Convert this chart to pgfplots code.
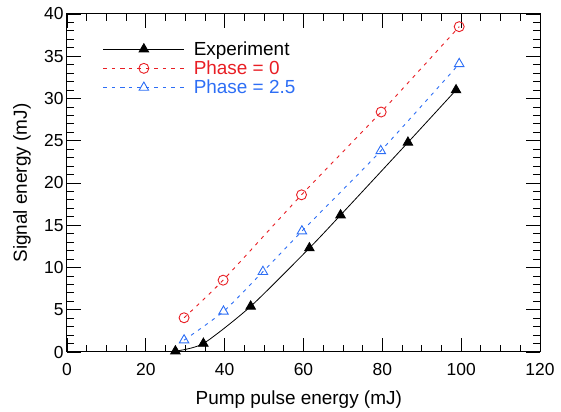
\documentclass[border=0pt]{standalone}
\usepackage{pgfplots}
\pgfplotsset{compat=1.18}
\usepackage{fontspec}
\setmainfont{Liberation Sans}
\definecolor{pred}{RGB}{232,30,36}
\definecolor{pblue}{RGB}{45,110,245}
\begin{document}
\begin{tikzpicture}[x=1bp,y=1bp]
\begin{axis}[
  scale only axis,
  width=473bp, height=338bp,
  xmin=0, xmax=120, ymin=0, ymax=40,
  xtick={0,20,...,120}, ytick={0,5,...,40},
  minor x tick num=3, minor y tick num=4,
  tick align=inside,
  major tick length=14bp, minor tick length=7bp,
  every tick/.style={black, line width=0.8bp},
  axis line style={line width=1bp},
  /pgf/number format/assume math mode=true,
  tick label style={font=\fontsize{17.5}{20}\selectfont},
  xticklabel style={yshift=-8bp},
  xlabel={Pump pulse energy (mJ)},
  ylabel={Signal energy (mJ)},
  xlabel style={at={(axis description cs:0.49,-0.154)}, anchor=base, font=\fontsize{19}{22}\selectfont},
  ylabel style={at={(axis description cs:-0.095,0.5)}, anchor=center, rotate=0, font=\fontsize{19}{22}\selectfont},
  legend style={draw=none, fill=none, at={(axis description cs:0.0755,0.925)}, anchor=north west,
     font=\fontsize{19}{22}\selectfont, row sep=0bp, column sep=7bp, inner sep=0pt},
  legend cell align=left,
  legend image code/.code={\draw[mark repeat=2,mark phase=2,#1] plot coordinates {(0bp,0bp) (40.5bp,0bp) (81bp,0bp)};},
]
\addplot[black, line width=0.8bp, smooth, tension=0.4, mark=triangle*, mark size=5.5bp, mark options={solid}]
 coordinates {(27.5,0.1) (34.6,1.0) (46.6,5.4) (61.5,12.3) (69.4,16.2) (86.5,24.8) (98.7,31.0)};
\addlegendentry{Experiment}
\addplot[pred, line width=0.9bp, dash pattern=on 3.5bp off 5bp, smooth, tension=0.4, mark=o, mark size=5bp, mark options={solid, line width=0.9bp}]
 coordinates {(29.7,4.05) (39.6,8.5) (59.5,18.6) (79.7,28.4) (99.5,38.5)};
\addlegendentry{\textcolor{pred}{Phase = 0}}
\addplot[pblue, line width=0.9bp, dash pattern=on 3.5bp off 5bp, smooth, tension=0.4, mark=triangle, mark size=5.5bp, mark options={solid, line width=0.9bp}]
 coordinates {(29.7,1.4) (39.7,4.8) (49.7,9.5) (59.6,14.3) (79.6,23.8) (99.5,34.1)};
\addlegendentry{\textcolor{pblue}{Phase = 2.5}}
\end{axis}
\path (current axis.south west) ++(-67bp,-58bp) coordinate (bl);
\path (current axis.north east) ++(21bp,14bp) coordinate (tr);
\path (bl) rectangle (tr);
\end{tikzpicture}
\end{document}
